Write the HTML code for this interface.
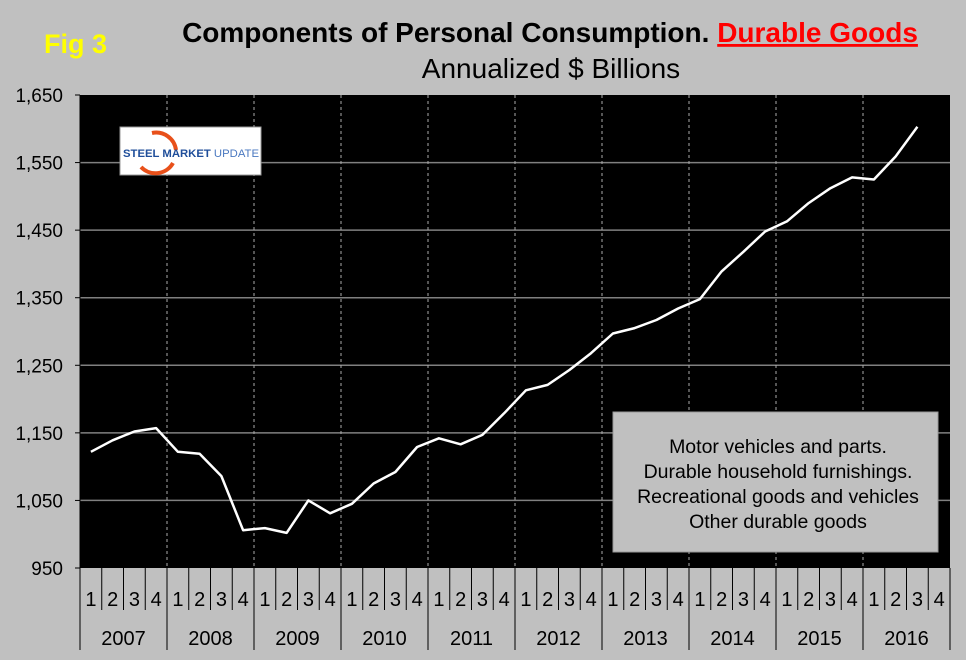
<!DOCTYPE html>
<html><head><meta charset="utf-8"><style>
body{margin:0;background:#c0c0c0;}
svg{display:block;font-family:"Liberation Sans",Arial,sans-serif;}
</style></head><body>
<svg id="chart" width="966" height="660" viewBox="0 0 966 660">
<rect x="0" y="0" width="966" height="660" fill="#c0c0c0"/>
<text x="44" y="53" font-size="27" font-weight="bold" fill="#ffff00">Fig 3</text>
<text x="550" y="42" font-size="28" font-weight="bold" text-anchor="middle" fill="#000">Components of Personal Consumption. <tspan fill="#ff0000" text-decoration="underline">Durable Goods</tspan></text>
<text x="551" y="78" font-size="28" text-anchor="middle" fill="#000">Annualized $ Billions</text>
<rect x="80" y="95" width="870" height="473" fill="#000"/>
<g id="grid"></g>
<g id="axes"></g>
<g>
<rect x="120" y="127" width="141" height="48" fill="#fff" stroke="#999" stroke-width="1"/>
<path d="M152 133 A20 20 0 0 1 176 150" fill="none" stroke="#e8501a" stroke-width="4"/>
<path d="M173 163 A20 20 0 0 1 141 167" fill="none" stroke="#e8501a" stroke-width="4"/>
<text x="123" y="157" font-size="11" font-weight="bold" fill="#1f4e9a" textLength="136" lengthAdjust="spacingAndGlyphs">STEEL MARKET <tspan font-weight="normal" fill="#4a78c0">UPDATE</tspan></text>
</g>
<g id="series"></g>
<g>
<rect x="613" y="412" width="325" height="140" fill="#c0c0c0" stroke="#999"/>
<text x="778" y="453" font-size="19.5" text-anchor="middle">Motor vehicles and parts.</text>
<text x="778" y="478" font-size="19.5" text-anchor="middle">Durable household furnishings.</text>
<text x="778" y="503" font-size="19.5" text-anchor="middle">Recreational goods and vehicles</text>
<text x="778" y="528" font-size="19.5" text-anchor="middle">Other durable goods</text>
</g>
</svg>
<script>
const years = ["2007","2008","2009","2010","2011","2012","2013","2014","2015","2016"];
const quarters = ["1","2","3","4"];
const yTicks = [950,1050,1150,1250,1350,1450,1550,1650];
const yTickLabels = ["950","1,050","1,150","1,250","1,350","1,450","1,550","1,650"];
const values = [1122,1139,1152,1157, 1122,1119,1086,1006, 1009,1002,1050,1031, 1045,1075,1092,1129, 1142,1133,1147,1179, 1213,1221,1243,1268, 1297,1305,1317,1334, 1348,1389,1418,1448, 1463,1490,1512,1528, 1525,1559,1603];

const NS="http://www.w3.org/2000/svg";
const L=80,R=950,T=95,B=568,yMin=950,yMax=1650;
const nQ=years.length*quarters.length, qw=(R-L)/nQ;
function yS(v){return B-(v-yMin)/(yMax-yMin)*(B-T);}
function xS(i){return L+qw*(i+0.5);}
function mk(tag,attrs,parent){const e=document.createElementNS(NS,tag);for(const k in attrs)e.setAttribute(k,attrs[k]);parent.appendChild(e);return e;}
const grid=document.getElementById('grid'),axes=document.getElementById('axes'),series=document.getElementById('series');
yTicks.forEach((v,i)=>{
  const y=yS(v);
  if(i>0&&i<yTicks.length-1){const g=mk('line',{x1:L,x2:R,y1:y,y2:y,stroke:'#808080','stroke-width':1.5},grid);
  
  }
  const t=mk('line',{x1:L-5,x2:L,y1:y,y2:y,stroke:'#000'},axes);
  
  
  const tx=mk('text',{x:63,y:y+7,'font-size':19,'text-anchor':'end',fill:'#000'},axes);
  tx.textContent=yTickLabels[i];
  
  
});
years.forEach((yr,j)=>{
  const x0=L+j*4*qw;
  if(j>0){const g=mk('line',{x1:x0,x2:x0,y1:T,y2:B,stroke:'#aaa','stroke-dasharray':'3,3'},grid);
  
  }
  const d=mk('line',{x1:x0,x2:x0,y1:B,y2:650,stroke:'#000'},axes);
  
  
  quarters.forEach((q,k)=>{
    const i=j*4+k;
    if(k>0){const l=mk('line',{x1:L+i*qw,x2:L+i*qw,y1:B,y2:610,stroke:'#000'},axes);
    
    }
    const t=mk('text',{x:xS(i),y:606,'font-size':20,'text-anchor':'middle'},axes);
    t.textContent=q;
    
    
  });
  const yt=mk('text',{x:x0+2*qw,y:645,'font-size':20,'text-anchor':'middle'},axes);
  yt.textContent=yr;
  
  
});
const de=mk('line',{x1:R,x2:R,y1:B,y2:650,stroke:'#000'},axes);


const ax=mk('line',{x1:L,x2:L,y1:T,y2:B,stroke:'#000'},axes);


const pts=values.map((v,i)=>xS(i).toFixed(1)+','+yS(v).toFixed(1)).join(' ');
const pl=mk('polyline',{points:pts,fill:'none',stroke:'#fff','stroke-width':2.5,'stroke-linejoin':'round'},series);


</script>
</body></html>
